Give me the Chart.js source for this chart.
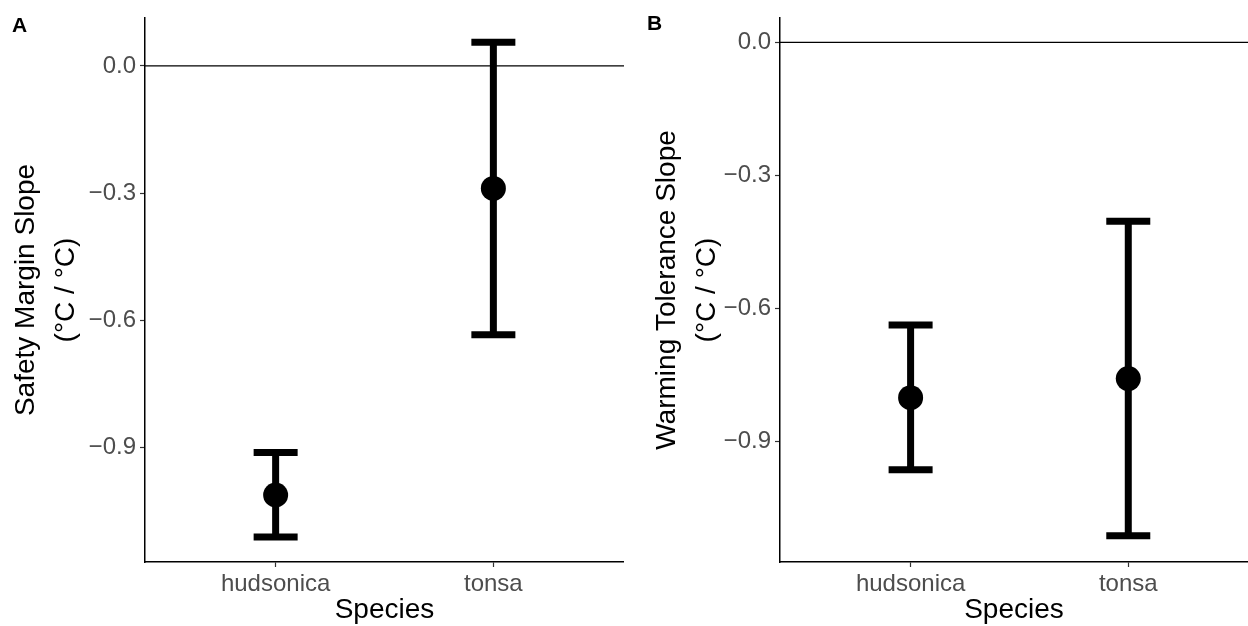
<!DOCTYPE html>
<html>
<head>
<meta charset="utf-8">
<script src="https://cdn.jsdelivr.net/npm/chart.js@4.4.1/dist/chart.umd.min.js"></script>
<style>
  html, body { margin: 0; padding: 0; background: #fff; }
  #wrap { position: relative; width: 1248px; height: 626px; overflow: hidden; }
  .panel { position: absolute; top: 0; width: 624px; height: 626px; }
  .tag { position: absolute; font: bold 21px "Liberation Sans", Arial, sans-serif; line-height: 1; color: #000; }
</style>
</head>
<body>
<div id="wrap">
  <div class="panel" style="left:0"><canvas id="chartA" width="624" height="626"></canvas></div>
  <div class="panel" style="left:624px"><canvas id="chartB" width="624" height="626"></canvas></div>
  <div class="tag" style="left:12px; top:14px">A</div>
  <div class="tag" style="left:647px; top:12px">B</div>
</div>
<script>
// categories and values
const species = ['hudsonica', 'tonsa'];

const safetyMean = [-1.012, -0.289];
const safetyLow = [-1.111, -0.634];
const safetyHigh = [-0.912, 0.056];

const warmingMean = [-0.802, -0.759];
const warmingLow = [-0.965, -1.114];
const warmingHigh = [-0.638, -0.404];

const yTicks = [0, -0.3, -0.6, -0.9];

const FONT = '"Liberation Sans", Arial, Helvetica, sans-serif';

// 0.0, −0.3 ... with a real minus sign like the original
function fmtTick(v) {
    return v.toFixed(1).replace('-', '\u2212');
}

/**
 * Builds one panel: a scatter of means plus whiskers drawn through the chart scales.
 */
function makePanel(canvasId, mean, low, high, yMin, yMax, xMax, yTitle, yWidth, titlePad) {
    // zero line and error bars, drawn under the points
    const errorBars = {
        id: 'errorBars',
        beforeDatasetsDraw(chart) {
            const {ctx, chartArea, scales: {x, y}} = chart;
            ctx.save();
            const y0 = y.getPixelForValue(0);
            ctx.strokeStyle = '#000';
            ctx.lineWidth = 1.3;
            ctx.beginPath();
            ctx.moveTo(chartArea.left, y0);
            ctx.lineTo(chartArea.right, y0);
            ctx.stroke();

            ctx.lineCap = 'butt';
            ctx.lineWidth = 7;
            low.forEach((lo, i) => {
                const px = x.getPixelForValue(i + 1);
                const pLo = y.getPixelForValue(lo);
                const pHi = y.getPixelForValue(high[i]);
                ctx.beginPath();
                ctx.moveTo(px, pLo);
                ctx.lineTo(px, pHi);
                ctx.moveTo(px - 22, pLo);
                ctx.lineTo(px + 22, pLo);
                ctx.moveTo(px - 22, pHi);
                ctx.lineTo(px + 22, pHi);
                ctx.stroke();
            });
            ctx.restore();
        }
    };

    return new Chart(document.getElementById(canvasId), {
        type: 'scatter',
        data: {
            datasets: [{
                data: mean.map((m, i) => ({x: i + 1, y: m})),
                pointRadius: 12.5,
                pointHoverRadius: 12.5,
                backgroundColor: '#000',
                borderWidth: 0
            }]
        },
        options: {
            responsive: false,
            animation: false,
            layout: {autoPadding: false, padding: {top: 18, left: 0, right: 0, bottom: 0}},
            plugins: {legend: {display: false}, tooltip: {enabled: false}},
            scales: {
                x: {
                    type: 'linear',
                    min: 0.4,
                    max: xMax,
                    afterBuildTicks(scale) {
                        scale.ticks = species.map((s, i) => ({value: i + 1}));
                    },
                    afterFit(scale) {
                        scale.height = 64;
                        scale.paddingLeft = 0;   // labels sit well inside, no edge padding
                        scale.paddingRight = 0;
                    },
                    ticks: {
                        callback: (v, i) => species[i],
                        font: {family: FONT, size: 24},
                        color: '#4d4d4d',
                        padding: 3,
                        maxRotation: 0
                    },
                    grid: {display: true, drawOnChartArea: false, drawTicks: true, tickLength: 5, tickColor: '#333', tickWidth: 1.2},
                    border: {display: true, color: '#000', width: 1.5},
                    title: {display: true, text: 'Species', font: {family: FONT, size: 28}, color: '#000', padding: {top: 0, bottom: -1}}
                },
                y: {
                    min: yMin,
                    max: yMax,
                    afterBuildTicks(scale) {
                        scale.ticks = yTicks.map(v => ({value: v}));
                    },
                    afterFit(scale) {
                        scale.width = yWidth;
                        scale.paddingTop = 0;
                        scale.paddingBottom = 0;
                    },
                    ticks: {
                        callback: v => fmtTick(v),
                        font: {family: FONT, size: 24},
                        color: '#4d4d4d',
                        padding: 4
                    },
                    grid: {display: true, drawOnChartArea: false, drawTicks: true, tickLength: 5, tickColor: '#333', tickWidth: 1.2},
                    border: {display: true, color: '#000', width: 1.5},
                    title: {
                        display: true,
                        text: yTitle,
                        font: {family: FONT, size: 28, lineHeight: 1.4},
                        color: '#000',
                        padding: {top: titlePad, bottom: 0}
                    }
                }
            }
        },
        plugins: [errorBars]
    });
}

makePanel('chartA', safetyMean, safetyLow, safetyHigh, -1.170, 0.113, 2.6,
    ['Safety Margin Slope', '(\u00B0C / \u00B0C)'], 145, 7);
makePanel('chartB', warmingMean, warmingLow, warmingHigh, -1.173, 0.055, 2.55,
    ['Warming Tolerance Slope', '(\u00B0C / \u00B0C)'], 156, 24);
</script>
</body>
</html>
